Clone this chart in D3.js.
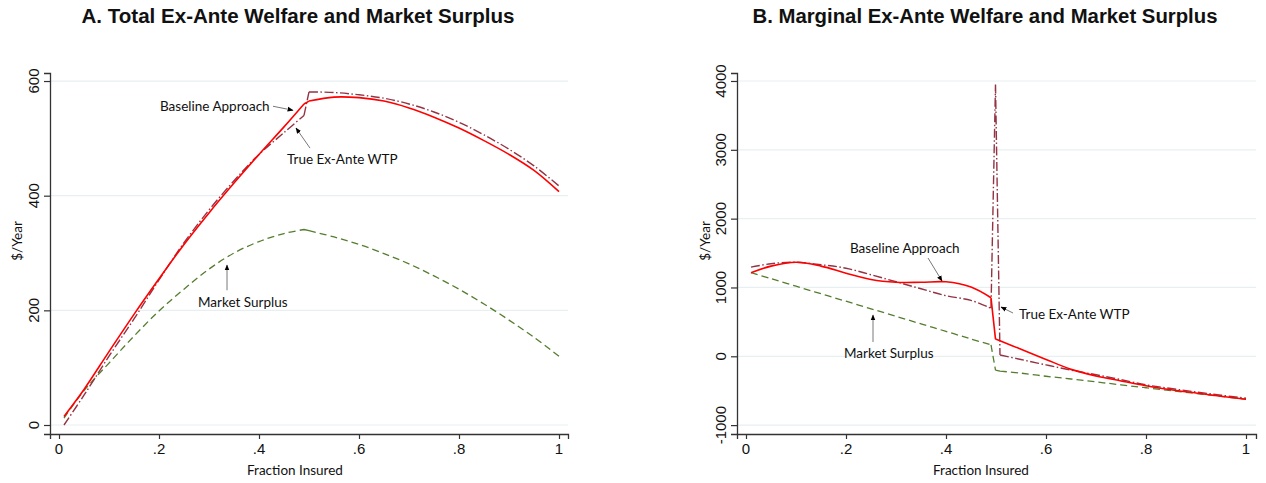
<!DOCTYPE html>
<html><head><meta charset="utf-8">
<script src="https://cdn.jsdelivr.net/npm/d3@7/dist/d3.min.js"></script>
<style>body{margin:0;background:#fff;} text{fill:#111;}</style>
</head><body>
<svg id="c" width="1266" height="483"></svg>
<script>
// ---------- Panel A data ----------
const xA = [0.01,0.05,0.1,0.15,0.2,0.25,0.3,0.35,0.4,0.45,0.49,0.5,0.55,0.6,0.65,0.7,0.75,0.8,0.85,0.9,0.95,1.0];
const baselineA = [15,62,128,193,255,315,370,422,472,520,560,565,572,571,565,553,537,518,496,472,444,407];
const trueWtpA  = [0,52,120,185,253,318,375,426,472,510,540,581,580,576,570,560,546,528,506,481,452,417];
const marketA   = [12,60,108,155,199,237,272,300,320,334,341,339,328,315,299,281,260,237,211,183,153,120];
const yTicksA = [0,200,400,600];
const breaksA = [0.49,0.5];          // x values where the curves have kinks / jumps

// ---------- Panel B data ----------
const xB = [0.01,0.05,0.1,0.15,0.2,0.25,0.3,0.35,0.4,0.45,0.49,0.499,0.508,0.55,0.6,0.65,0.7,0.75,0.8,0.85,0.9,0.95,1.0];
const baselineB = [1215,1310,1366,1310,1208,1115,1075,1075,1082,1005,850,250,225,103,-45,-190,-285,-358,-428,-485,-533,-580,-625];
const trueWtpB  = [1295,1345,1366,1330,1280,1185,1083,981,880,812,697,3950,19,-47,-125,-200,-268,-340,-415,-468,-518,-565,-610];
const marketB   = [1215,1128,1018,909,800,690,581,471,362,252,165,-200,-215,-245,-290,-330,-372,-415,-457,-500,-541,-583,-625];
const yTicksB = [-1000,0,1000,2000,3000,4000];
const breaksB = [0.49,0.499,0.508];

const xTicks = [0,0.2,0.4,0.6,0.8,1];
const xTickLabels = ["0",".2",".4",".6",".8","1"];
const titles = ["A. Total Ex-Ante Welfare and Market Surplus","B. Marginal Ex-Ante Welfare and Market Surplus"];
const seriesNames = ["Baseline Approach","True Ex-Ante WTP","Market Surplus"];

// annotations: [label, textX, textY, arrowFromX, arrowFromY, arrowToX, arrowToY] in data units
const annotA = [
  ["Baseline Approach", 0.202, 556, 0.428, 556, 0.468, 549],
  ["True Ex-Ante WTP", 0.456, 464, 0.502, 483, 0.474, 518],
  ["Market Surplus", 0.278, 214, 0.336, 235, 0.336, 279]
];
const annotB = [
  ["Baseline Approach", 0.208, 1574, 0.364, 1428, 0.392, 1094],
  ["True Ex-Ante WTP", 0.546, 615, 0.534, 629, 0.51, 716],
  ["Market Surplus", 0.196, 48, 0.254, 208, 0.254, 600]
];

const panels = [
  {x:xA, s:[baselineA,trueWtpA,marketA], br:breaksA, yTicks:yTicksA, yDom:[-15.7,614], xRange:[50,568], xDom:[-0.018,1.018],
   title:titles[0], titleX:298, titleW:433, ann:annotA, yLabX:22, tickLabX:39, xLabX:295},
  {x:xB, s:[baselineB,trueWtpB,marketB], br:breaksB, yTicks:yTicksB, yDom:[-1129,4116], xRange:[737,1256], xDom:[-0.018,1.02],
   title:titles[1], titleX:985, titleW:465, ann:annotB, yLabX:710, tickLabX:726, xLabX:981}
];

const styles = [
  {color:"#ff0000", w:1.6, dash:null},
  {color:"#933444", w:1.4, dash:"9,2.5,1.5,2.5"},
  {color:"#557d2f", w:1.3, dash:"7,4"}
];

const svg = d3.select("#c");
svg.append("defs").append("marker").attr("id","ah").attr("viewBox","0 0 10 10")
  .attr("refX",9).attr("refY",5).attr("markerWidth",6).attr("markerHeight",6)
  .attr("orient","auto").attr("markerUnits","userSpaceOnUse")
  .append("path").attr("d","M0,1 L10,5 L0,9 Z").attr("fill","#000");

// split points into pieces at break x-values (pieces share endpoints)
function pieces(pts, br){
  const out=[]; let cur=[];
  pts.forEach(pt=>{
    cur.push(pt);
    if(br.some(b=>Math.abs(b-pt[0])<1e-9)){ out.push(cur); cur=[pt]; }
  });
  if(cur.length>1) out.push(cur);
  return out;
}

const yRange=[434,73];
panels.forEach(p=>{
  const g = svg.append("g");
  const x = d3.scaleLinear().domain(p.xDom).range(p.xRange);
  const y = d3.scaleLinear().domain(p.yDom).range(yRange);

  g.selectAll(".grid").data(p.yTicks).enter().append("line")
    .attr("x1",p.xRange[0]).attr("x2",p.xRange[1]).attr("y1",d=>y(d)).attr("y2",d=>y(d))
    .attr("stroke","#e7eff1").attr("stroke-width",1.2);

  const ya = g.append("g").attr("transform",`translate(${p.xRange[0]},0)`)
    .call(d3.axisLeft(y).tickValues(p.yTicks).tickSize(6).tickFormat(""));
  ya.select(".domain").attr("stroke","#333").attr("stroke-width",1.3);
  ya.selectAll(".tick line").attr("stroke","#333").attr("stroke-width",1.2);
  g.selectAll(".ylab").data(p.yTicks).enter().append("text")
    .attr("transform",d=>`translate(${p.tickLabX},${y(d)}) rotate(-90)`)
    .attr("text-anchor","middle").attr("font-family","Liberation Sans, Arial, sans-serif")
    .attr("font-size",15).text(d=>d);

  const xa = g.append("g").attr("transform",`translate(0,${yRange[0]})`)
    .call(d3.axisBottom(x).tickValues(xTicks).tickSize(5).tickFormat(""));
  xa.select(".domain").attr("stroke","#333").attr("stroke-width",1.3);
  xa.selectAll(".tick line").attr("stroke","#333").attr("stroke-width",1.2);
  g.selectAll(".xlab").data(xTicks).enter().append("text")
    .attr("x",d=>x(d)).attr("y",454).attr("text-anchor","middle")
    .attr("font-family","Liberation Sans, Arial, sans-serif").attr("font-size",15)
    .text((d,i)=>xTickLabels[i]);

  g.append("text").attr("x",p.xLabX).attr("y",475).attr("text-anchor","middle")
    .attr("font-family","Lato, sans-serif").attr("font-size",13.5).text("Fraction Insured");
  g.append("text").attr("transform",`translate(${p.yLabX},241) rotate(-90)`).attr("text-anchor","middle")
    .attr("font-family","Lato, sans-serif").attr("font-size",13.5).text("$/Year");

  g.append("text").attr("x",p.titleX).attr("y",23).attr("text-anchor","middle")
    .attr("font-family","Liberation Sans, Arial, sans-serif").attr("font-weight","bold").attr("font-size",20)
    .attr("textLength",p.titleW).attr("lengthAdjust","spacingAndGlyphs").text(p.title);

  const line = d3.line().x(d=>x(d[0])).y(d=>y(d[1])).curve(d3.curveCatmullRom.alpha(0.5));
  [2,1,0].forEach(i=>{
    const st = styles[i];
    const pts = p.x.map((v,j)=>[v,p.s[i][j]]);
    const d = pieces(pts,p.br).map(pc=>line(pc)).join("");
    g.append("path").attr("d",d).attr("fill","none").attr("stroke",st.color).attr("stroke-width",st.w)
      .attr("stroke-dasharray",st.dash).attr("stroke-linejoin","round");
  });

  p.ann.forEach(a=>{
    g.append("text").attr("x",x(a[1])).attr("y",y(a[2])).attr("dy","0.35em")
      .attr("font-family","Lato, sans-serif").attr("font-size",13.5).text(a[0]);
    g.append("line").attr("x1",x(a[3])).attr("y1",y(a[4])).attr("x2",x(a[5])).attr("y2",y(a[6]))
      .attr("stroke","#555").attr("stroke-width",0.8).attr("marker-end","url(#ah)");
  });
});
</script>
</body></html>
